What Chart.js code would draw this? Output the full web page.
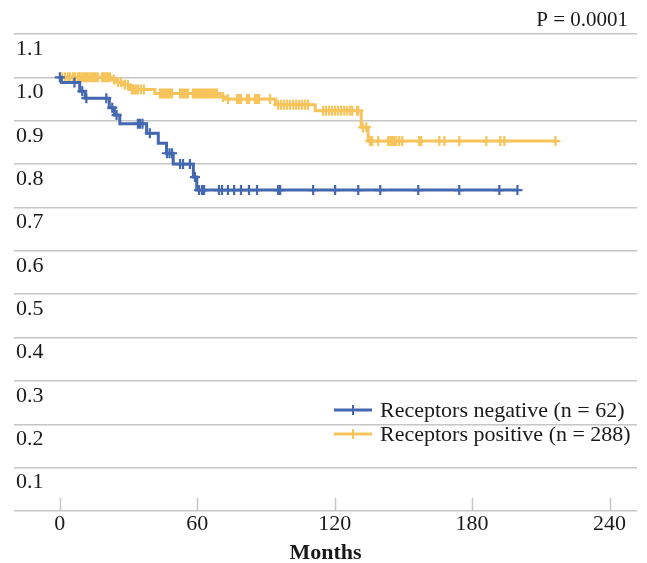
<!DOCTYPE html>
<html><head><meta charset="utf-8">
<script src="https://cdn.jsdelivr.net/npm/chart.js@4.4.0/dist/chart.umd.min.js"></script>
<style>html,body{margin:0;padding:0;background:#fff}#wrap{width:647px;height:563px}</style>
</head><body><div id="wrap"><canvas id="c" width="647" height="563"></canvas></div>
<script>
// ---------- DATA ----------
const seriesNames = ['Receptors negative (n = 62)', 'Receptors positive (n = 288)'];

// Receptors negative: step times (months) and survival after each step
const negEventMonths = [0, 0.7, 8.7, 11.1, 21.6, 23.8, 26.2, 37.9, 43.0, 46.6, 49.5, 58.3, 59.8];
const negSurvival    = [1.0, 0.988, 0.968, 0.952, 0.930, 0.913, 0.893, 0.871, 0.848, 0.825, 0.800, 0.770, 0.740];
const negCensorMonths = [0, 6.4, 9.8, 11.6, 20.3, 22.9, 24.8, 34.1, 35.0, 36.1, 39.3, 46.8, 47.9, 49.0,
  52.5, 53.8, 56.8, 59.0, 60.8, 62.1, 63.0, 69.5, 70.8, 73.4, 76.1, 79.1, 82.6, 86.1, 95.3, 96.2,
  110.6, 120.2, 130.3, 139.9, 156.5, 174.4, 191.9, 199.8];

// Receptors positive
const posEventMonths = [0, 22.7, 24.8, 27.7, 30.6, 41.5, 70.0, 72.6, 94.1, 111.5, 131.6, 134.6];
const posSurvival    = [1.0, 0.995, 0.989, 0.983, 0.972, 0.963, 0.955, 0.950, 0.937, 0.923, 0.885, 0.853];
const posCensorMonths = [0.9, 2.2, 3.5, 4.4, 5.7, 6.6, 7.9, 8.7, 9.6, 10.5, 11.4, 12.2, 13.1, 14.0, 14.9,
  15.7, 16.6, 18.4, 19.2, 20.1, 21.0, 21.9, 23.6, 25.4, 26.7, 28.4, 29.7, 31.5, 32.3, 33.2, 34.1, 35.4, 36.7,
  43.7, 44.6, 45.5, 46.3, 47.2, 48.1, 49.0, 52.5, 53.3, 54.2, 55.1, 56.0, 58.1, 59.0, 59.9, 60.8, 61.6,
  62.5, 63.4, 64.3, 65.1, 66.0, 66.9, 67.8, 68.6, 71.3, 73.4, 77.4, 78.3, 79.1, 81.7, 82.6, 85.2, 86.1,
  87.0, 91.8, 95.3, 96.6, 97.9, 99.2, 100.5, 101.9, 103.2, 104.5, 105.8, 107.1, 108.4, 115.0, 116.3,
  117.6, 118.9, 120.2, 121.5, 122.8, 124.2, 125.5, 126.8, 127.7, 129.8, 130.3, 132.3, 133.8, 135.5,
  136.4, 139.0, 143.4, 144.3, 145.1, 146.0, 146.9, 148.2, 149.5, 156.9, 157.8, 165.7, 167.9, 174.4,
  186.2, 192.3, 194.1, 216.4];

const xTickValues = [0, 60, 120, 180, 240];
const yTickValues = [0, 0.1, 0.2, 0.3, 0.4, 0.5, 0.6, 0.7, 0.8, 0.9, 1.0, 1.1];
const xAxisTitle = 'Months';
const pValueText = 'P = 0.0001';

// ---------- HELPERS ----------
function survAt(times, surv, t) {
  let s = surv[0];
  for (let i = 0; i < times.length; i++) if (times[i] <= t) s = surv[i];
  return s;
}
function stepPoints(times, surv, censors) {
  const pts = times.map((t, i) => ({x: t, y: surv[i]}));
  const last = censors[censors.length - 1];
  pts.push({x: last, y: survAt(times, surv, last)});
  return pts;
}
function censorPoints(times, surv, censors) {
  return censors.map(t => ({x: t, y: survAt(times, surv, t)}));
}

const BLUE = '#4468B0';
const GOLD = '#F7C45C';
const FONT = 'Liberation Serif, Times New Roman, serif';
const TEXT = '#1a1a1a';
const GRID = '#c6c6c6';
const FS = 22;

const topTextPlugin = {
  id: 'topText',
  afterDraw(chart) {
    const ctx = chart.ctx;
    ctx.save();
    ctx.font = '21px ' + FONT;
    ctx.fillStyle = TEXT;
    ctx.textAlign = 'right';
    ctx.textBaseline = 'middle';
    ctx.fillText(pValueText, chart.chartArea.right - 9, 20);
    ctx.restore();
  }
};
const innerTicksPlugin = {
  id: 'innerTicks',
  beforeDatasetsDraw(chart) {
    const ctx = chart.ctx, xs = chart.scales.x, b = chart.chartArea.bottom;
    ctx.save();
    ctx.strokeStyle = GRID; ctx.lineWidth = 1.5;
    xs.ticks.forEach(t => {
      const px = Math.round(xs.getPixelForValue(t.value)) + 0.5;
      ctx.beginPath(); ctx.moveTo(px, b - 13); ctx.lineTo(px, b); ctx.stroke();
    });
    ctx.restore();
  }
};
const legendPlugin = {
  id: 'kmLegend',
  afterDraw(chart) {
    const ctx = chart.ctx, ca = chart.chartArea;
    const colors = [BLUE, GOLD];
    ctx.save();
    ctx.font = FS + 'px ' + FONT;
    ctx.textBaseline = 'middle';
    seriesNames.forEach((name, i) => {
      const y = 410 + i * 24;
      const x0 = ca.left + 320;
      ctx.strokeStyle = colors[i]; ctx.lineWidth = 3;
      ctx.beginPath(); ctx.moveTo(x0, y); ctx.lineTo(x0 + 38, y); ctx.stroke();
      ctx.lineWidth = 2;
      ctx.beginPath(); ctx.moveTo(x0 + 19, y - 5); ctx.lineTo(x0 + 19, y + 5); ctx.stroke();
      ctx.fillStyle = TEXT;
      ctx.textAlign = 'left';
      ctx.fillText(name, x0 + 46, y + 1);
    });
    ctx.restore();
  }
};

new Chart(document.getElementById('c'), {
  type: 'scatter',
  data: {
    datasets: [
      { label: seriesNames[0], data: censorPoints(negEventMonths, negSurvival, negCensorMonths),
        showLine: false, pointStyle: 'cross', pointRadius: 5, borderColor: BLUE, borderWidth: 2.2 },
      { label: seriesNames[0], data: stepPoints(negEventMonths, negSurvival, negCensorMonths),
        showLine: true, stepped: 'before', pointRadius: 0, borderColor: BLUE, borderWidth: 3 },
      { label: seriesNames[1], data: censorPoints(posEventMonths, posSurvival, posCensorMonths),
        showLine: false, pointStyle: 'cross', pointRadius: 5, borderColor: GOLD, borderWidth: 2.2 },
      { label: seriesNames[1], data: stepPoints(posEventMonths, posSurvival, posCensorMonths),
        showLine: true, stepped: 'before', pointRadius: 0, borderColor: GOLD, borderWidth: 3 }
    ]
  },
  options: {
    responsive: false,
    devicePixelRatio: 1,
    animation: false,
    layout: { padding: { top: 34, left: 14, right: 10, bottom: 0 } },
    plugins: { legend: { display: false }, tooltip: { enabled: false }, title: { display: false } },
    scales: {
      x: {
        type: 'linear', min: -20, max: 252,
        afterBuildTicks: s => { s.ticks = xTickValues.map(v => ({value: v})); },
        afterFit: s => { s.height = 52; },
        grid: { display: false, drawTicks: false }, border: { display: false },
        ticks: { autoSkip: false, maxRotation: 0, padding: 0, color: TEXT,
                 font: { family: FONT, size: FS }, callback: v => String(v) },
        title: { display: true, text: xAxisTitle, color: TEXT, padding: { top: 0, bottom: -4 },
                 font: { family: FONT, size: FS, weight: 'bold' } }
      },
      y: {
        type: 'linear', min: 0, max: 1.1,
        afterBuildTicks: s => { s.ticks = yTickValues.map(v => ({value: v})); },
        afterFit: s => { s.width = 0; },
        border: { display: false },
        grid: { color: GRID, lineWidth: 1.5, drawTicks: false },
        ticks: { mirror: true, padding: 2, labelOffset: 15, color: TEXT,
                 font: { family: FONT, size: FS },
                 callback: v => (v === 0 ? '' : Number(v).toFixed(1)) }
      }
    }
  },
  plugins: [topTextPlugin, innerTicksPlugin, legendPlugin]
});
</script></body></html>
